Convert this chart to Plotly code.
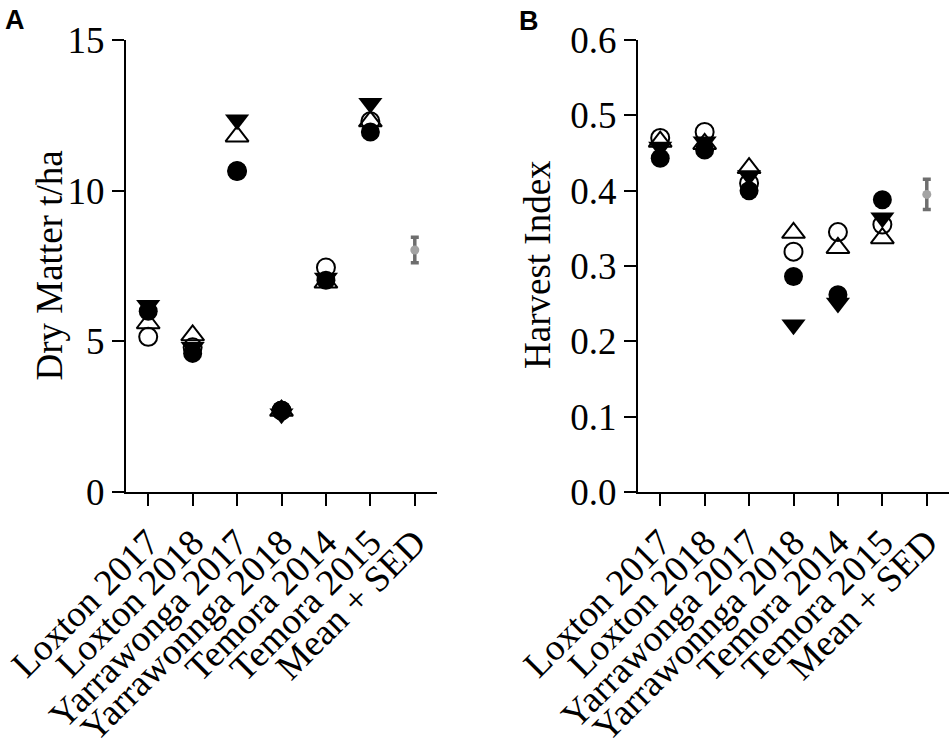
import plotly.graph_objects as go

# site / season categories (last slot holds the mean +/- SED bar)
sites = ["Loxton 2017", "Loxton 2018", "Yarrawonga 2017", "Yarrawonnga 2018",
         "Temora 2014", "Temora 2015", "Mean + SED"]
site_cats = sites[:6]

# panel A: dry matter (t/ha), four treatments
dm_filled_circle = [6.0, 4.6, 10.65, 2.72, 7.03, 11.95]
dm_open_circle = [5.15, 4.8, 10.65, 2.7, 7.45, 12.3]
dm_open_triangle = [5.6, 5.2, 11.8, 2.7, 6.95, 12.3]
dm_filled_tridown = [6.2, 4.8, 12.35, 2.6, 7.1, 12.9]
dm_mean = [8.03]
dm_sed = [0.42]

# panel B: harvest index
hi_filled_circle = [0.443, 0.454, 0.400, 0.286, 0.262, 0.388]
hi_open_circle = [0.470, 0.478, 0.410, 0.319, 0.345, 0.355]
hi_open_triangle = [0.465, 0.462, 0.430, 0.344, 0.324, 0.337]
hi_filled_tridown = [0.458, 0.465, 0.420, 0.222, 0.251, 0.364]
hi_mean = [0.395]
hi_sed = [0.02]

W, H = 952, 740
SERIF = "Liberation Serif, Times New Roman, serif"
SANS = "Liberation Sans, Arial, sans-serif"


def px_x(v):
    return v / W


def px_y(v):
    return (H - v) / H


fig = go.Figure()


def add_panel(xa, ya, fc, oc, ot, td, mean, sed):
    common = dict(x=site_cats, xaxis=xa, yaxis=ya, mode="markers",
                  showlegend=False, hoverinfo="x+y")
    fig.add_trace(go.Scatter(y=td, marker=dict(symbol="triangle-down", size=21, color="black"), **common))
    fig.add_trace(go.Scatter(y=fc, marker=dict(symbol="circle", size=19, color="black"), **common))
    fig.add_trace(go.Scatter(y=ot, marker=dict(symbol="triangle-up-open", size=20, color="black",
                                               line=dict(width=2)), **common))
    fig.add_trace(go.Scatter(y=oc, marker=dict(symbol="circle-open", size=18, color="black",
                                               line=dict(width=2)), **common))
    fig.add_trace(go.Scatter(
        x=[sites[6]], y=mean, xaxis=xa, yaxis=ya, mode="markers", showlegend=False,
        marker=dict(symbol="circle", size=9, color="#a3a3a3"),
        error_y=dict(type="data", array=sed, visible=True, color="#6e6e6e",
                     thickness=3.5, width=4),
    ))


add_panel("x", "y", dm_filled_circle, dm_open_circle, dm_open_triangle,
          dm_filled_tridown, dm_mean, dm_sed)
add_panel("x2", "y2", hi_filled_circle, hi_open_circle, hi_open_triangle,
          hi_filled_tridown, hi_mean, hi_sed)

axis_style = dict(showline=True, linewidth=2, linecolor="black", ticks="outside",
                  ticklen=12, tickwidth=2, tickcolor="black", showgrid=False,
                  zeroline=False, automargin=False,
                  tickfont=dict(family=SERIF, size=37, color="black"))

xcat = dict(type="category", categoryorder="array", categoryarray=sites,
            tickmode="array", tickvals=sites, ticktext=sites,
            range=[-0.5, 6.5], tickangle=-45)

ydom = [px_y(492), px_y(40)]
fig.update_layout(
    width=W, height=H,
    margin=dict(l=0, r=0, t=0, b=0),
    paper_bgcolor="white", plot_bgcolor="white",
    xaxis=dict(domain=[px_x(126), px_x(437)], anchor="y", **xcat, **axis_style),
    yaxis=dict(domain=ydom, anchor="x", range=[0, 15], dtick=5, **axis_style),
    xaxis2=dict(domain=[px_x(638), px_x(949)], anchor="y2", **xcat, **axis_style),
    yaxis2=dict(domain=ydom, anchor="x2", range=[0, 0.6], dtick=0.1,
                tickformat=".1f", **axis_style),
    annotations=[
        dict(text="Dry Matter t/ha", x=px_x(26), y=px_y(266), xref="paper", yref="paper",
             textangle=-90, showarrow=False, font=dict(family=SERIF, size=37, color="black")),
        dict(text="Harvest Index", x=px_x(537), y=px_y(265), xref="paper", yref="paper",
             textangle=-90, showarrow=False, font=dict(family=SERIF, size=37, color="black")),
        dict(text="<b>A</b>", x=px_x(3), y=px_y(3), xref="paper", yref="paper",
             xanchor="left", yanchor="top", showarrow=False,
             font=dict(family=SANS, size=27, color="black")),
        dict(text="<b>B</b>", x=px_x(517), y=px_y(4), xref="paper", yref="paper",
             xanchor="left", yanchor="top", showarrow=False,
             font=dict(family=SANS, size=27, color="black")),
    ],
)

# drop the default page margin so the figure sits at the window's corner
fig.write_html("out.html", config={"displayModeBar": False},
               post_script="document.body.style.margin='0';"
                           "document.body.style.overflow='hidden';")
